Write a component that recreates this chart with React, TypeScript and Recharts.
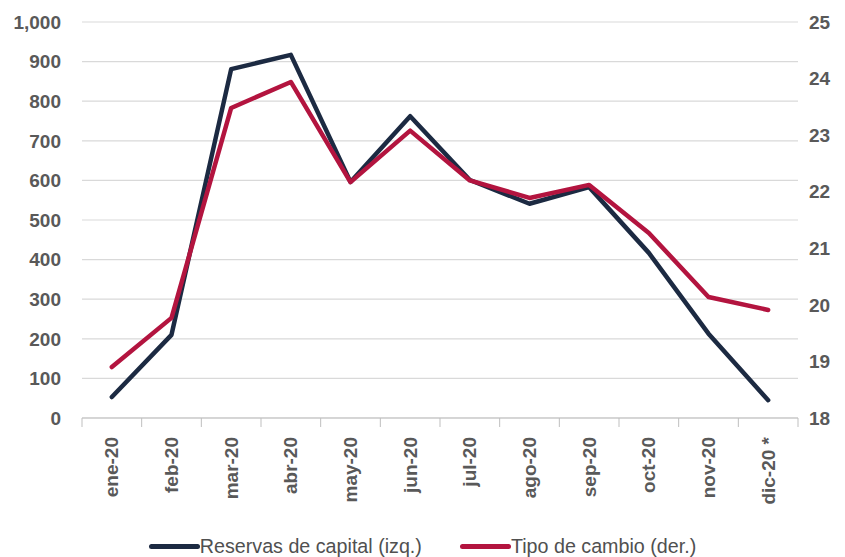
import React from 'react';
import { LineChart, Line, XAxis, YAxis, CartesianGrid, Legend } from 'recharts';

const months = ['ene-20', 'feb-20', 'mar-20', 'abr-20', 'may-20', 'jun-20', 'jul-20', 'ago-20', 'sep-20', 'oct-20', 'nov-20', 'dic-20 *'];
const reservas = [53, 210, 881, 917, 596, 762, 601, 541, 583, 417, 213, 45];
const tipoCambio = [18.9, 19.77, 23.48, 23.94, 22.17, 23.08, 22.2, 21.89, 22.12, 21.27, 20.14, 19.91];
const leftTicks = [0, 100, 200, 300, 400, 500, 600, 700, 800, 900, 1000];
const rightTicks = [18, 19, 20, 21, 22, 23, 24, 25];

const data = months.map((m, i) => ({ month: m, reservas: reservas[i], tipo: tipoCambio[i] }));

const NAVY = '#1c2a42';
const RED = '#b3143f';
const GRAY = '#595959';
const FONT = '"Liberation Sans", Arial, sans-serif';

const XTick = (props: any) => {
  const { x, y, payload, index } = props;
  const band = 716 / 12;
  const isLast = index === months.length - 1;
  return (
    <g>
      <line x1={x - band / 2} x2={x - band / 2} y1={y - 8} y2={y + 1} stroke="#bfbfbf" />
      {isLast && <line x1={x + band / 2} x2={x + band / 2} y1={y - 8} y2={y + 1} stroke="#bfbfbf" />}
      <text
        x={0}
        y={0}
        transform={`translate(${x},${y + 11}) rotate(-90)`}
        textAnchor="end"
        dominantBaseline="central"
        fill={GRAY}
        fontSize={19}
        fontWeight="bold"
        fontFamily={FONT}
      >
        {payload.value}
      </text>
    </g>
  );
};

const LegendContent = () => (
  <div style={{ display: 'flex', justifyContent: 'center', alignItems: 'center', fontFamily: FONT, fontSize: 19.7, color: '#505050' }}>
    <div style={{ display: 'flex', alignItems: 'center', marginRight: 38 }}>
      <div style={{ width: 51, height: 5, background: NAVY, borderRadius: 3 }} />
      <span>Reservas de capital (izq.)</span>
    </div>
    <div style={{ display: 'flex', alignItems: 'center' }}>
      <div style={{ width: 51, height: 5, background: RED, borderRadius: 3 }} />
      <span>Tipo de cambio (der.)</span>
    </div>
  </div>
);

export default function App() {
  return (
    <div style={{ position: 'absolute', left: 0, top: 0, width: 845, height: 557, background: '#fff' }}>
      <LineChart width={845} height={557} data={data} margin={{ top: 22, right: 0, bottom: 26, left: 0 }}>
        <CartesianGrid yAxisId="left" vertical={false} stroke="#d9d9d9" strokeWidth={1.2} />
        <XAxis
          dataKey="month"
          scale="band"
          height={90}
          stroke="#bfbfbf"
          tickLine={false}
          interval={0}
          tick={<XTick />}
        />
        <YAxis
          yAxisId="left"
          width={82}
          domain={[0, 1000]}
          ticks={leftTicks}
          axisLine={false}
          tickLine={false}
          tickMargin={15}
          tickFormatter={(v: number) => v.toLocaleString('en-US')}
          tick={{ fill: GRAY, fontSize: 19, fontWeight: 'bold', fontFamily: FONT }}
        />
        <YAxis
          yAxisId="right"
          orientation="right"
          width={47}
          domain={[18, 25]}
          ticks={rightTicks}
          axisLine={false}
          tickLine={false}
          tickMargin={5}
          tick={{ fill: GRAY, fontSize: 19, fontWeight: 'bold', fontFamily: FONT }}
        />
        <Line yAxisId="left" type="linear" dataKey="reservas" stroke={NAVY} strokeWidth={4.5} dot={false} isAnimationActive={false} strokeLinejoin="round" strokeLinecap="round" />
        <Line yAxisId="right" type="linear" dataKey="tipo" stroke={RED} strokeWidth={4.5} dot={false} isAnimationActive={false} strokeLinejoin="round" strokeLinecap="round" />
        <Legend content={<LegendContent />} wrapperStyle={{ position: 'absolute', top: 535, left: 0, width: 845 }} />
      </LineChart>
    </div>
  );
}
